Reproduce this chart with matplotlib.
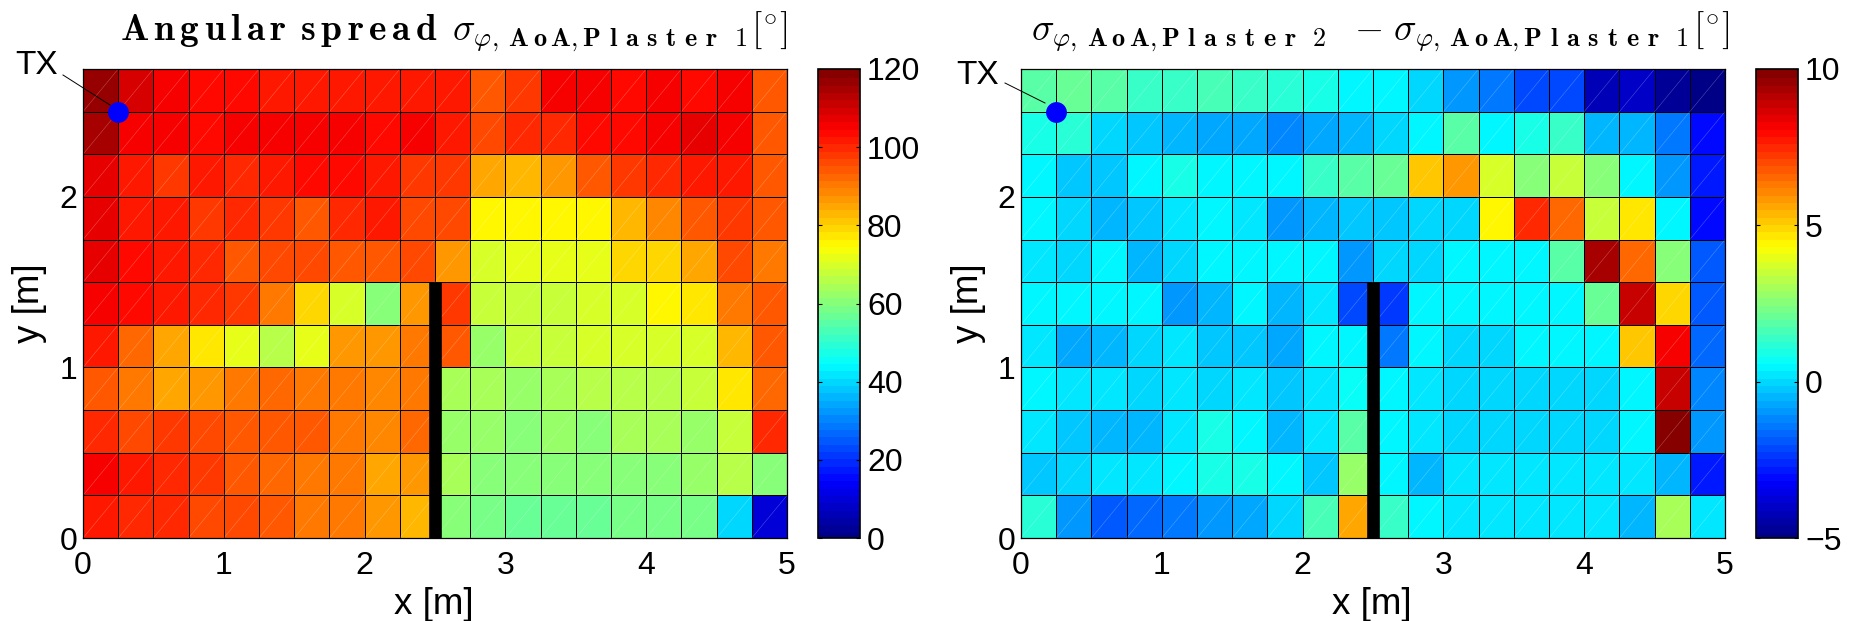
import numpy as np
import matplotlib
matplotlib.use('Agg')
import matplotlib.pyplot as plt
from matplotlib.colors import ListedColormap
from matplotlib.collections import LineCollection

plt.rcParams['font.family'] = ['Liberation Sans', 'DejaVu Sans']
plt.rcParams['mathtext.fontset'] = 'cm'

W, H = 1859, 621

# rows listed from the top of the room (y = 2.75) down to y = 0
spread_plaster1 = [
    [117, 109, 105, 104, 104, 102, 102, 102, 103, 102, 103, 95, 99, 105, 105, 104, 105, 104, 105, 94],
    [115, 105, 105, 104, 106, 106, 106, 106, 104, 105, 103, 96, 101, 101, 104, 104, 106, 107, 105, 95],
    [108, 103, 99, 102, 100, 102, 104, 104, 102, 98, 98, 86, 84, 88, 95, 98, 101, 102, 103, 95],
    [108, 103, 102, 98, 100, 98, 95, 101, 102, 96, 96, 75, 75, 75, 75, 84, 89, 95, 99, 95],
    [108, 104, 102, 100, 95, 97, 96, 95, 94, 97, 87, 71, 73, 72, 73, 79, 79, 86, 96, 91],
    [105, 104, 102, 101, 99, 91, 80, 71, 60, 88, 98, 69, 69, 69, 71, 71, 75, 78, 90, 94],
    [102, 93, 86, 77, 73, 67, 73, 87, 88, 90, 94, 63, 69, 69, 70, 70, 71, 71, 83, 94],
    [95, 90, 86, 87, 90, 92, 91, 90, 89, 90, 65, 64, 62, 64, 67, 67, 67, 69, 77, 92],
    [101, 96, 98, 96, 95, 95, 94, 90, 89, 93, 63, 62, 61, 62, 61, 64, 64, 63, 69, 100],
    [105, 102, 101, 98, 94, 92, 91, 90, 85, 88, 64, 60, 60, 60, 60, 60, 60, 63, 67, 60],
    [102, 100, 100, 97, 96, 94, 90, 90, 88, 83, 61, 59, 57, 57, 57, 59, 59, 59, 41, 11],
]
spread_difference = [
    [1.94, 2.17, 1.94, 1.37, 1.5, 1.65, 1.37, 1.2, 1.0, 0.62, 0.4, 0.03, -0.9, -1.3, -2.0, -2.0, -4.1, -4.05, -4.66, -5.0],
    [1.05, 1.1, 0.1, -0.25, -0.33, -0.63, -0.7, -1.2, -0.63, -0.47, 0.03, 0.62, 1.95, 0.62, 0.9, 1.37, -0.47, -0.47, -1.3, -3.1],
    [0.62, -0.2, -0.1, 0.4, 1.0, 0.62, 0.62, 0.4, 1.37, 1.95, 2.2, 5.1, 6.0, 3.9, 2.6, 3.5, 2.6, 0.62, -0.9, -2.8],
    [0.62, 0.1, -0.4, -0.1, 0.3, 0.55, 0.3, -0.85, -0.47, -0.1, -0.25, 0.03, 0.03, 4.4, 7.5, 6.5, 3.5, 4.8, 0.62, -3.1],
    [0.2, 0.03, 0.6, -0.33, 0.03, 0.62, 0.62, 0.62, 0.4, -0.85, 0.03, -0.05, 0.4, 0.4, 0.4, 1.9, 9.4, 6.7, 2.5, -1.8],
    [0.55, 0.4, 0.4, 0.62, -0.95, -0.4, 0.62, -0.33, 0.3, -2.0, -2.25, 0.62, 0.4, 0.4, 0.4, 0.4, 2.1, 8.9, 4.9, -1.9],
    [0.3, -0.63, -0.4, 0.03, 0.3, -0.2, -0.2, -0.63, 0.62, 0.4, -1.3, 0.4, 0.1, 0.1, 0.45, 0.45, 0.45, 5.3, 8.35, -1.5],
    [0.4, 0.3, 0.2, -0.05, 0.3, 0.1, 0.2, -0.25, 0.3, 0.85, 0.62, 0.3, 0.1, 0.1, 0.03, 0.03, 0.1, 0.45, 8.9, -1.1],
    [0.3, -0.1, -0.4, -0.4, 0.3, 0.9, 0.62, -0.4, 0.3, 1.9, 0.62, 0.3, 0.03, 0.03, 0.03, 0.03, 0.03, 0.45, 10.0, -0.9],
    [-0.2, 0.03, 0.2, 0.2, 0.4, 0.9, 0.9, 0.62, -0.1, 2.85, 0.62, -0.4, 0.2, 0.2, 0.2, 0.2, 0.2, 0.2, -0.33, -2.8],
    [1.15, -0.9, -1.95, -1.5, -1.35, -0.9, -0.63, -0.05, 1.6, 5.55, 1.37, 0.4, 0.2, 0.2, 0.2, 0.2, 0.2, -0.33, 3.2, 0.2],
]
x_ticks = [0, 1, 2, 3, 4, 5]
y_ticks = [0, 1, 2]
cbar_ticks_1 = [0, 20, 40, 60, 80, 100, 120]
cbar_ticks_2 = [-5, 0, 5, 10]
wall_x = [2.5, 2.5]
wall_y = [0, 1.5]
tx_pos = (0.25, 2.5)


def tracked(s, gap, word_gap):
    # LaTeX bold with letterspacing, mathtext has no tracking of its own
    parts = []
    for word in s.split(' '):
        parts.append((r'\hspace{%g}' % gap).join(r'\mathbf{%s}' % c for c in word))
    return (r'\hspace{%g}' % word_gap).join(parts)


def sigma(name):
    return (r'\sigma_{\varphi,\hspace{0.25}' + tracked('AoA', 0.2, 0) + r',\hspace{0.0}'
            + tracked(name, 0.38, 0.75) + '}')


title_1 = '$' + tracked('Angular spread', 0.165, 0.45) + r'\hspace{0.5}' + sigma('Plaster 1') + '$'
title_2 = '$' + sigma('Plaster 2') + r'\hspace{0.6}-\hspace{0.1}' + sigma('Plaster 1') + '$'
title_unit = r'$[\hspace{-0.12}^\circ\hspace{-0.12}]$'


def matlab_jet(n=64):
    # the old MATLAB jet, cyan and yellow sit further apart than in matplotlib's
    t = (np.arange(n) + 0.5) / n
    r = np.interp(t, [0, 3/8, 5/8, 7/8, 1], [0, 0, 1, 1, 0.5])
    g = np.interp(t, [0, 1/8, 3/8, 5/8, 7/8, 1], [0, 0, 1, 1, 0, 0])
    b = np.interp(t, [0, 1/8, 3/8, 5/8, 1], [0.5, 1, 1, 0, 0])
    return ListedColormap(np.column_stack([r, g, b]))


def px_axes(x0, y0, x1, y1):
    return [x0 / W, 1 - y1 / H, (x1 - x0) / W, (y1 - y0) / H]


def paint_panel(fig, box, cbar_box, values, vmin, vmax, cbar_ticks, title, title_x, label_x, tx_text, tx_line):
    ax = fig.add_axes(px_axes(*box))
    values = np.array(values)[::-1]
    xe = np.arange(values.shape[1] + 1) * 0.25
    ye = np.arange(values.shape[0] + 1) * 0.25

    mesh = ax.pcolormesh(xe, ye, values, cmap=matlab_jet(), vmin=vmin, vmax=vmax,
                         edgecolors='k', linewidth=0.62)

    # pale seams across every cell, left over from the triangles of the export
    seams = [[(a, b), (a + 0.25, b + 0.25)] for a in xe[:-1] for b in ye[:-1]]
    ax.add_collection(LineCollection(seams, colors='w', linewidths=0.4, alpha=0.3))

    ax.plot(wall_x, wall_y, color='k', lw=9.1, solid_capstyle='butt', zorder=3, clip_on=False)
    ax.plot(*tx_pos, 'o', color='#0000ff', ms=15, mew=0, zorder=4, clip_on=False)

    ax.set_xlim(0, 5)
    ax.set_ylim(0, 2.75)
    ax.set_xticks(x_ticks)
    ax.set_yticks(y_ticks)
    ax.tick_params(length=0, labelsize=23)
    ax.tick_params(axis='x', pad=9)
    ax.tick_params(axis='y', pad=4)
    for s in ax.spines.values():
        s.set_linewidth(0.9)

    fig.text(label_x / W, 1 - 605 / H, 'x [m]', fontsize=26.5, ha='center', va='center')
    fig.text((box[0] - 53) / W, 1 - 303 / H, 'y [m]', fontsize=26.5, rotation=90, ha='center', va='center')

    fig.text((title_x - 41) / W, 1 - 40 / H, title, fontsize=27, ha='right', va='baseline')
    fig.text(title_x / W, 1 - 40 / H, title_unit, fontsize=27, ha='right', va='baseline')

    fig.text(tx_text[0] / W, 1 - tx_text[1] / H, 'TX', fontsize=24, ha='center', va='center')
    fig.add_artist(plt.Line2D([tx_line[0] / W, tx_line[2] / W], [1 - tx_line[1] / H, 1 - tx_line[3] / H],
                              color='k', lw=0.7))

    cax = fig.add_axes(px_axes(*cbar_box))
    cbar = fig.colorbar(mesh, cax=cax, ticks=cbar_ticks, drawedges=False)
    cbar.solids.set_edgecolor('face')
    cbar.outline.set_linewidth(1.2)
    cax.tick_params(direction='in', left=True, right=True, length=3, width=0.8, labelsize=23, pad=5)


def main():
    fig = plt.figure(figsize=(W / 100, H / 100), dpi=100)

    paint_panel(fig, (83, 69, 787, 538), (818, 69, 860, 538), spread_plaster1, 0, 120, cbar_ticks_1,
                title_1, 788, 434, (37, 66), (63, 75, 110, 105))
    paint_panel(fig, (1021, 69, 1725, 538), (1756, 69, 1798, 538), spread_difference, -5, 10, cbar_ticks_2,
                title_2, 1730, 1372, (978, 76), (1005, 83, 1045, 103))

    fig.savefig('out.png', dpi=100)


if __name__ == '__main__':
    main()
